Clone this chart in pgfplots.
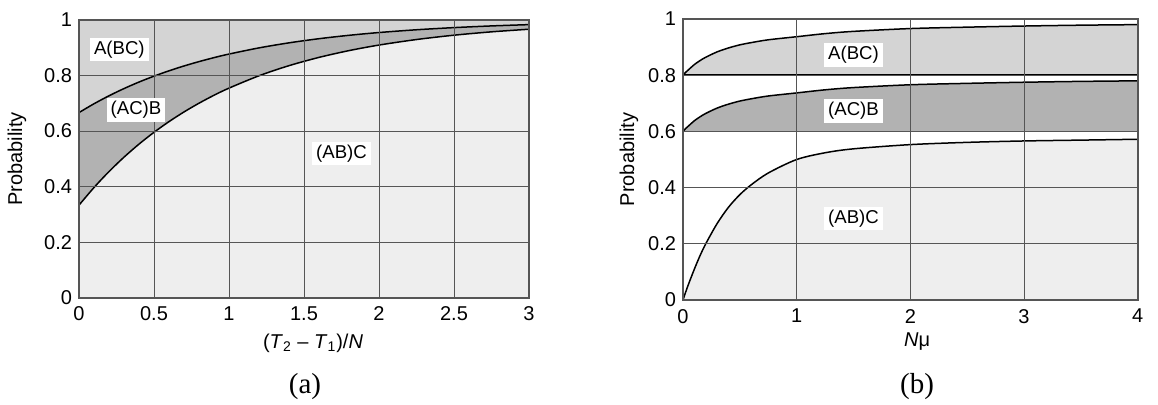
\documentclass[border=0pt]{standalone}
\usepackage{fontspec}
\setmainfont{Liberation Sans}
\newfontfamily\capfont{Liberation Serif}
\usepackage{pgfplots}
\pgfplotsset{compat=1.18}
\usepackage{pgfplotstable}

\definecolor{cA}{HTML}{D4D4D4}
\definecolor{cB}{HTML}{B2B2B2}
\definecolor{cC}{HTML}{EEEEEE}
\definecolor{gridc}{HTML}{555555}

\pgfplotstableread{
x lo up
0 0.3333 0.6667
0.1 0.3968 0.6984
0.2 0.4542 0.7271
0.3 0.5061 0.7531
0.4 0.5531 0.7766
0.5 0.5956 0.7978
0.6 0.6341 0.8171
0.7 0.6689 0.8345
0.8 0.7004 0.8502
0.9 0.7290 0.8645
1.0 0.7547 0.8774
1.2 0.7992 0.8996
1.4 0.8356 0.9178
1.6 0.8654 0.9327
1.8 0.8898 0.9449
2.0 0.9098 0.9549
2.25 0.9297 0.9649
2.5 0.9453 0.9726
2.75 0.9574 0.9787
3.0 0.9668 0.9834
}\ta

\pgfplotstableread{
x f m t
0 0 0.600 0.800
0.025 0.030 0.611 0.811
0.05 0.058 0.620 0.820
0.1 0.110 0.638 0.838
0.15 0.158 0.652 0.852
0.2 0.200 0.664 0.864
0.3 0.272 0.683 0.883
0.4 0.330 0.697 0.897
0.5 0.375 0.708 0.908
0.6 0.410 0.716 0.916
0.75 0.452 0.726 0.926
1 0.500 0.737 0.937
1.25 0.524 0.748 0.948
1.5 0.538 0.756 0.956
2 0.553 0.766 0.966
2.5 0.561 0.771 0.971
3 0.566 0.775 0.975
3.5 0.569 0.778 0.978
4 0.572 0.780 0.980
}\tb

\tikzset{
  lab/.style={fill=white, inner xsep=2pt, inner ysep=1.5pt, font=\fontsize{9.3}{10}\selectfont},
  crv/.style={black, line width=0.75pt, smooth},
}
\pgfplotsset{
  common/.style={
    scale only axis,
    axis on top,
    ymin=0, ymax=1,
    ytick={0,0.2,0.4,0.6,0.8,1},
    grid=major,
    major grid style={draw=gridc, line width=0.5pt},
    major tick length=0pt,
    axis line style={draw=gridc, line width=0.8pt},
    /pgf/number format/assume math mode=true,
    tick label style={font=\fontsize{10}{11}\selectfont},
    xticklabel style={yshift=-1pt},
    label style={font=\fontsize{10}{12}\selectfont},
    ylabel={Probability},
  },
}

\begin{document}
\begin{tikzpicture}
\path[use as bounding box] (0,0) rectangle (579pt,202pt);

% ---------- (a) ----------
\begin{axis}[common,
  at={(39.5pt,53.15pt)}, anchor=south west,
  width=225pt, height=138.85pt,
  xmin=0, xmax=3,
  xtick={0,0.5,1,1.5,2,2.5,3},
  axis background/.style={fill=cA},
  xlabel={(\textit{T}\textsubscript{2} – \textit{T}\textsubscript{1})/\textit{N}},
  xlabel style={at={(axis description cs:0.52,-0.163)}, anchor=center},
  ylabel style={at={(axis description cs:-0.138,0.5)}, anchor=center},
]
\addplot[fill=cB, draw=none, smooth] table[x=x, y=up] {\ta} \closedcycle;
\addplot[fill=cC, draw=none, smooth] table[x=x, y=lo] {\ta} \closedcycle;
\addplot[crv] table[x=x, y=up] {\ta};
\addplot[crv] table[x=x, y=lo] {\ta};
\coordinate (a1) at (axis cs:0.269,0.894);
\coordinate (a2) at (axis cs:0.38,0.676);
\coordinate (a3) at (axis cs:1.75,0.52);
\end{axis}
\node[lab] at (a1) {A(BC)};
\node[lab] at (a2) {(AC)B};
\node[lab] at (a3) {(AB)C};

% ---------- (b) ----------
\begin{axis}[common,
  at={(341.5pt,52pt)}, anchor=south west,
  width=227.35pt, height=140.5pt,
  xmin=0, xmax=4,
  xtick={0,1,2,3,4},
  xlabel={\textit{N}μ},
  xlabel style={at={(axis description cs:0.515,-0.148)}, anchor=center},
  ylabel style={at={(axis description cs:-0.119,0.5)}, anchor=center},
]
\addplot[fill=cA, draw=none, smooth] table[x=x, y=t] {\tb} \closedcycle;
\addplot[fill=white, draw=none] coordinates {(0,0.8) (4,0.8)} \closedcycle;
\addplot[fill=cB, draw=none, smooth] table[x=x, y=m] {\tb} \closedcycle;
\addplot[fill=white, draw=none] coordinates {(0,0.6) (4,0.6)} \closedcycle;
\addplot[fill=cC, draw=none, smooth] table[x=x, y=f] {\tb} \closedcycle;
\addplot[crv] table[x=x, y=t] {\tb};
\addplot[crv] table[x=x, y=m] {\tb};
\addplot[crv] table[x=x, y=f] {\tb};
\addplot[black, line width=0.75pt] coordinates {(0,0.8) (4,0.8)};
\addplot[black, line width=0.75pt] coordinates {(0,0.6) (4,0.6)};
\coordinate (b1) at (axis cs:1.5,0.872);
\coordinate (b2) at (axis cs:1.5,0.673);
\coordinate (b3) at (axis cs:1.5,0.291);
\end{axis}
\node[lab] at (b1) {A(BC)};
\node[lab] at (b2) {(AC)B};
\node[lab] at (b3) {(AB)C};

% captions
\node[font=\capfont\fontsize{14.5}{16}\selectfont] at (152.5pt,8.5pt) {(a)};
\node[font=\capfont\fontsize{14.5}{16}\selectfont] at (458.5pt,8.5pt) {(b)};
\end{tikzpicture}
\end{document}
